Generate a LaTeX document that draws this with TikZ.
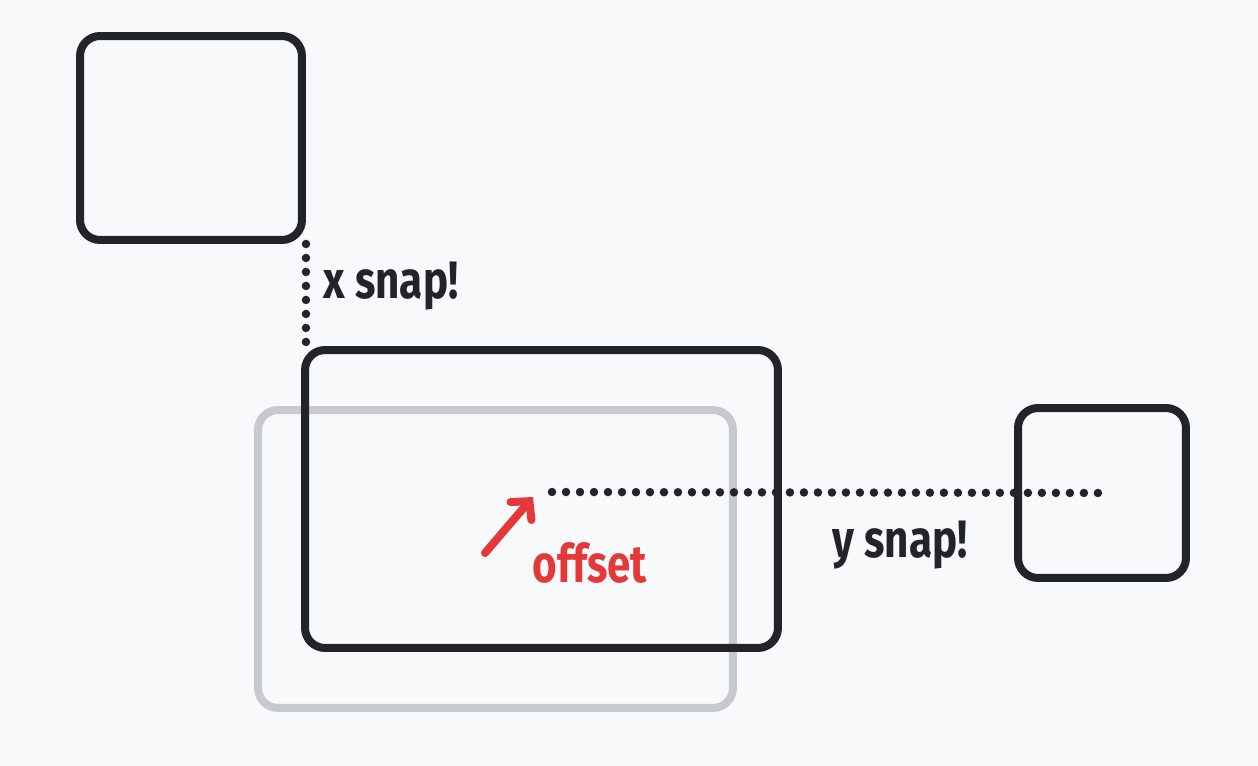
\documentclass[tikz,border=0pt]{standalone}
\usepackage{fontspec}
\setmainfont{Fira Sans}
\usetikzlibrary{arrows.meta}
\definecolor{ink}{HTML}{212529}
\definecolor{ghost}{HTML}{C6CACF}
\definecolor{hint}{HTML}{E5383B}
\definecolor{paper}{HTML}{F8F9FA}
\tikzset{
  card/.style={draw=ink, line width=0.16cm, rounded corners=0.4cm, inner sep=0pt},
  ghostcard/.style={card, draw=ghost},
  snapline/.style={draw=ink, line width=0.17cm, line cap=round, dash pattern=on 0pt off 0.28cm},
  snaptext/.style={text=ink, font=\bfseries\fontsize{30}{30}\selectfont, xscale=0.8},
}
\begin{document}
\begin{tikzpicture}[x=0.02cm, y=-0.02cm]
    \fill[paper] (0,0) rectangle (1258,766);
    \useasboundingbox (0,0) rectangle (1258,766);

    % boxes
    \node[card, minimum width=4.44cm, minimum height=4.08cm] (anchor) at (191,138) {};
    \node[ghostcard, minimum width=9.5cm, minimum height=5.96cm] (ghost) at (495.5,559) {};
    \node[card, minimum width=9.46cm, minimum height=5.96cm] (moved) at (541.5,499) {};
    \node[card, minimum width=3.36cm, minimum height=3.4cm] (target) at (1102,493) {};

    % guides
    \coordinate (ystart) at (552,492);
    \draw[snapline] (anchor.south east) -- (anchor.south east |- moved.north);
    \draw[snapline] (ystart) -- (target.center);

    % labels
    \node[snaptext] (xlabel) at (391,286) {x snap!};
    \node[snaptext] (ylabel) at (900,545) {y snap!};
    \node[snaptext, text=hint] (offlabel) at (590,563) {offset};

    % offset arrow
    \coordinate (tail) at (485,553);
    \coordinate (tip) at (533,497);
    \draw[hint, line width=0.16cm, line cap=round, -{Straight Barb[length=0.26cm, width=0.55cm, line cap=round]}] (tail) -- (tip);
\end{tikzpicture}
\end{document}
